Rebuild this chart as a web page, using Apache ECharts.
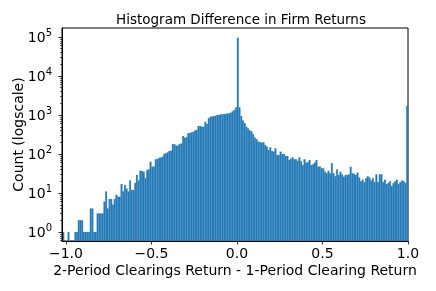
<!DOCTYPE html>
<html>
<head>
<meta charset="utf-8">
<script src="https://cdn.jsdelivr.net/npm/echarts@6/dist/echarts.min.js"></script>
<style>
html,body{margin:0;padding:0;background:#fff;}
#chart{width:436px;height:291px;}
</style>
</head>
<body>
<div id="chart"></div>
<script>
// Histogram bins (difference of returns), width 0.01 starting at -1.02
const binStart = -1.02;
const binWidth = 0.01;
const counts = [
  1,0,0,1,0,0,0,1,1,2,
  2,2,1,1,1,1,4,4,1,1,
  3,3,3,3,6,11,4,7,7,5,
  7,9,8,8,17,11,16,13,11,21,
  12,12,18,29,21,37,37,35,24,39,
  40,63,47,48,73,75,80,82,85,100,
  105,110,120,122,180,178,163,165,180,185,
  290,260,270,340,345,360,370,400,415,520,
  520,500,500,670,590,830,900,910,940,950,
  1000,1000,1040,1040,1060,1060,1100,1100,1150,1250,
  1350,1550,95000,1570,940,720,620,500,450,400,
  380,320,260,240,207,200,195,200,170,154,
  127,148,120,114,140,94,94,114,100,100,
  89,89,70,75,82,73,73,67,82,65,
  52,73,60,62,70,52,55,60,70,47,
  48,43,43,35,32,37,32,58,32,27,
  40,29,35,30,26,29,29,30,47,32,
  31,29,33,25,20,22,19,24,27,25,
  21,24,19,30,19,30,30,19,22,17,
  18,20,15,18,20,22,17,19,21,20,
  18,1700
];
const xTicks = [-1.0, -0.5, 0.0, 0.5, 1.0];
const yTicks = [1, 10, 100, 1000, 10000, 100000];
const yMinorTicks = [];
for (let e = -1; e <= 5; e++) {
  for (let k = 2; k <= 9; k++) yMinorTicks.push(k * Math.pow(10, e));
}
const xMin = -1.023, xMax = 1.0;
const yMin = 0.59, yMax = 170000;

const FONT = 'DejaVu Sans';
const chart = echarts.init(document.getElementById('chart'), null, {renderer: 'canvas'});

const barData = counts.map((c, i) => [binStart + i * binWidth, binStart + (i + 1) * binWidth, c])
  .filter(d => d[2] > 0);

const option = {
  animation: false,
  backgroundColor: '#fff',
  title: {
    text: 'Histogram Difference in Firm Returns',
    left: 236,
    textAlign: 'center',
    top: 8,
    textStyle: {fontFamily: FONT, fontSize: 13.5, fontWeight: 'normal', color: '#000'}
  },
  grid: {
    left: 62, right: 28, top: 28, bottom: 50,
    show: true, borderColor: '#000', borderWidth: 1, backgroundColor: 'transparent'
  },
  xAxis: {
    type: 'value', min: xMin, max: xMax, z: 10,
    name: '2-Period Clearings Return - 1-Period Clearing Return',
    nameLocation: 'middle', nameGap: 23, nameMoveOverlap: false,
    nameTextStyle: {fontFamily: FONT, fontSize: 14, color: '#000'},
    axisLine: {show: true, onZero: false, lineStyle: {color: '#000', width: 1}},
    axisTick: {show: true, length: 3.5, customValues: xTicks, lineStyle: {color: '#000', width: 0.8}},
    axisLabel: {
      customValues: xTicks, margin: 6, color: '#000', fontFamily: FONT, fontSize: 14,
      formatter: v => v.toFixed(1).replace('-', '\u2212')
    },
    splitLine: {show: false}
  },
  yAxis: [{
    type: 'log', logBase: 10, min: yMin, max: yMax, z: 10,
    name: 'Count (logscale)', nameLocation: 'middle', nameGap: 36, nameMoveOverlap: false,
    nameTextStyle: {fontFamily: FONT, fontSize: 14, color: '#000'},
    axisLine: {show: true, onZero: false, lineStyle: {color: '#000', width: 1}},
    axisTick: {show: true, length: 3.5, customValues: yTicks, lineStyle: {color: '#000', width: 0.8}},
    axisLabel: {
      customValues: yTicks, margin: 10, color: '#000', fontFamily: FONT, fontSize: 14,
      formatter: v => '{b|10}{s|' + Math.round(Math.log10(v)) + '}',
      rich: {
        b: {fontFamily: FONT, fontSize: 14, color: '#000', verticalAlign: 'bottom'},
        s: {fontFamily: FONT, fontSize: 10, color: '#000', verticalAlign: 'bottom', padding: [0, 0, 7, 0]}
      }
    },
    splitLine: {show: false}
  }, {
    type: 'log', logBase: 10, min: yMin, max: yMax, position: 'left', z: 10,
    axisLine: {show: false, onZero: false},
    axisTick: {show: true, length: 2, customValues: yMinorTicks, lineStyle: {color: '#000', width: 0.6}},
    axisLabel: {show: false, customValues: yMinorTicks},
    splitLine: {show: false}
  }],
  series: [{
    type: 'custom',
    clip: true,
    encode: {x: [0, 1], y: 2},
    data: barData,
    renderItem: function (params, api) {
      const x0 = api.value(0), x1 = api.value(1), c = api.value(2);
      const p0 = api.coord([x0, c]);
      const p1 = api.coord([x1, yMin]);
      return {
        type: 'rect',
        shape: {x: p0[0], y: p0[1], width: p1[0] - p0[0], height: p1[1] - p0[1]},
        style: {fill: '#1f77b4', stroke: '#4f97cc', lineWidth: 0.25}
      };
    }
  }]
};
chart.setOption(option);
</script>
</body>
</html>
